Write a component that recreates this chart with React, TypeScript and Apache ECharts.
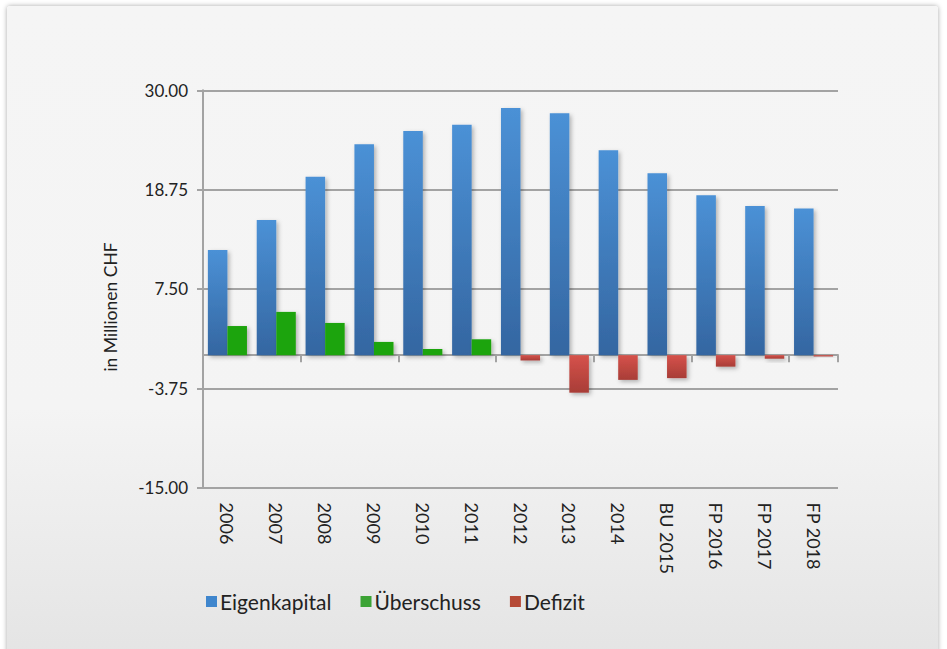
import React, { useEffect, useRef } from "react";
import * as echarts from "echarts";

const categories = ["2006", "2007", "2008", "2009", "2010", "2011", "2012", "2013", "2014", "BU 2015", "FP 2016", "FP 2017", "FP 2018"];
const eigenkapital = [11.9, 15.3, 20.2, 23.9, 25.4, 26.1, 28.0, 27.4, 23.2, 20.6, 18.1, 16.9, 16.6];
const ueberschuss: (number | string)[] = [3.3, 4.9, 3.65, 1.5, 0.7, 1.8, "-", "-", "-", "-", "-", "-", "-"];
const defizit: (number | string)[] = ["-", "-", "-", "-", "-", "-", -0.6, -4.25, -2.8, -2.6, -1.3, -0.4, -0.15];
const yTicks = [-15, -3.75, 7.5, 18.75, 30];

const FONT = "Lato, 'Noto Sans', sans-serif";

export default function App() {
  const ref = useRef<HTMLDivElement>(null);
  useEffect(() => {
    if (!ref.current) return;
    const chart = echarts.init(ref.current, undefined, { renderer: "svg" });
    const shadow = {
      shadowBlur: 4,
      shadowOffsetX: 2,
      shadowOffsetY: 2,
      shadowColor: "rgba(0,0,0,0.28)",
    };
    const noShadow = { shadowBlur: 0, shadowOffsetX: 0, shadowOffsetY: 0 };
    chart.setOption({
      animation: false,
      backgroundColor: "transparent",
      textStyle: { fontFamily: FONT },
      grid: { left: 203, right: 109, top: 90.3, bottom: 161.4, containLabel: false },
      legend: {
        left: 201,
        top: 586,
        itemWidth: 11,
        itemHeight: 11,
        itemGap: 29,
        icon: "rect",
        textStyle: { fontSize: 21, color: "#222", fontFamily: FONT, padding: [0, 0, 0, -2] },
        data: [
          { name: "Eigenkapital", itemStyle: { color: "#3f86cd", ...noShadow } },
          { name: "Überschuss", itemStyle: { color: "#3ca335", ...noShadow } },
          { name: "Defizit", itemStyle: { color: "#b64a36", ...noShadow } },
        ],
      },
      xAxis: [
        {
          type: "category",
          data: categories,
          position: "bottom",
          axisLine: { show: true, onZero: true, lineStyle: { color: "#a3a3a3", width: 2 } },
          axisTick: { show: true, length: 7, lineStyle: { color: "#a3a3a3", width: 2 } },
          axisLabel: { show: false },
          splitLine: { show: false },
        },
        {
          type: "category",
          data: categories,
          position: "bottom",
          axisLine: { show: false, onZero: false },
          axisTick: { show: false },
          axisLabel: {
            show: true,
            rotate: -90,
            margin: 15,
            fontSize: 18,
            color: "#222",
            fontFamily: FONT,
            interval: 0,
          },
          splitLine: { show: false },
        },
      ],
      yAxis: {
        type: "value",
        min: -15,
        max: 30,
        name: "in Millionen CHF",
        nameLocation: "middle",
        nameGap: 84,
        nameTextStyle: { fontSize: 17.5, color: "#222", fontFamily: FONT, padding: [0, 36, 0, 0] },
        axisLine: { show: true, lineStyle: { color: "#a3a3a3", width: 2 } },
        axisTick: { show: true, length: 6, customValues: yTicks, lineStyle: { color: "#a3a3a3", width: 2 } },
        axisLabel: {
          customValues: yTicks,
          margin: 15,
          fontSize: 17,
          color: "#222",
          fontFamily: FONT,
          formatter: (v: number) => v.toFixed(2),
        },
        splitLine: { show: true, lineStyle: { color: "#a3a3a3", width: 2 } },
      },
      series: [
        {
          name: "Eigenkapital",
          type: "bar",
          xAxisIndex: 0,
          data: eigenkapital,
          barGap: "0%",
          barCategoryGap: "20%",
          itemStyle: {
            color: new echarts.graphic.LinearGradient(0, 0, 0, 1, [
              { offset: 0, color: "#4b91d6" },
              { offset: 1, color: "#3466a1" },
            ]),
            ...shadow,
          },
        },
        {
          name: "Überschuss",
          type: "bar",
          xAxisIndex: 0,
          stack: "saldo",
          data: ueberschuss,
          barGap: "0%",
          barCategoryGap: "20%",
          itemStyle: { color: "#1fa40a", ...shadow },
        },
        {
          name: "Defizit",
          type: "bar",
          xAxisIndex: 0,
          stack: "saldo",
          data: defizit,
          barGap: "0%",
          barCategoryGap: "20%",
          itemStyle: {
            color: new echarts.graphic.LinearGradient(0, 0, 0, 1, [
              { offset: 0, color: "#d6524b" },
              { offset: 1, color: "#a83d37" },
            ]),
            ...shadow,
          },
        },
      ],
    });
    return () => chart.dispose();
  }, []);

  return (
    <div style={{ position: "fixed", left: 0, top: 0, width: 947, height: 649, background: "#fff", overflow: "hidden" }}>
      <div
        style={{
          position: "absolute",
          left: 7,
          top: 6,
          width: 931,
          height: 670,
          borderRadius: 3,
          background: "linear-gradient(to bottom, #f5f5f5 0%, #f4f4f4 60%, #e3e3e3 100%)",
          boxShadow: "0 0 5px rgba(0,0,0,0.35)",
        }}
      />
      <div ref={ref} style={{ position: "absolute", left: 0, top: 0, width: 947, height: 649 }} />
    </div>
  );
}
